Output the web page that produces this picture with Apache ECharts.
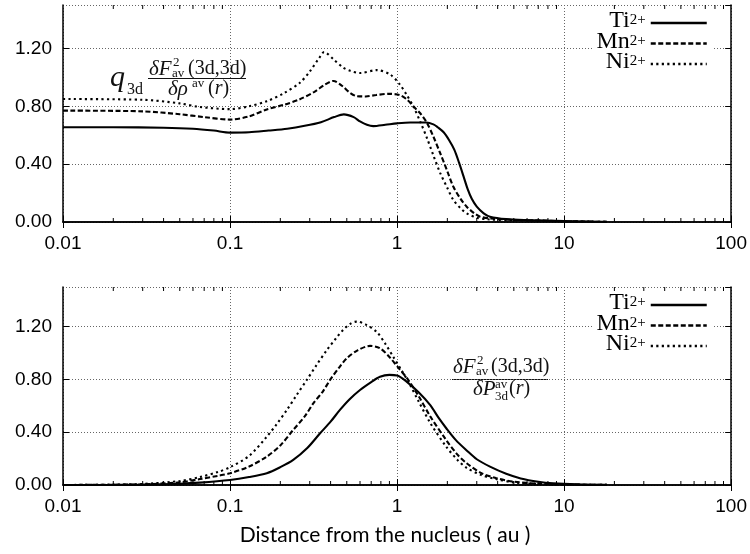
<!DOCTYPE html>
<html>
<head>
<meta charset="utf-8">
<script src="https://cdn.jsdelivr.net/npm/echarts@6/dist/echarts.min.js"></script>
<style>html,body{margin:0;padding:0;background:#fff}#c{width:750px;height:554px}</style>
</head>
<body>
<div id="c"></div>
<script>
// ---- data ----
const seriesNames = ['Ti2+', 'Mn2+', 'Ni2+'];
const xTickLabels = ['0.01', '0.1', '1', '10', '100'];
const minorTickValues = [0.02,0.03,0.04,0.05,0.06,0.07,0.08,0.09,
  0.2,0.3,0.4,0.5,0.6,0.7,0.8,0.9, 2,3,4,5,6,7,8,9, 20,30,40,50,60,70,80,90];

// upper panel: q3d dF/drho
const topTiX = [0.01,0.02,0.04,0.06,0.08,0.1,0.13,0.17,0.22,0.28,0.35,0.42,0.48,0.55,0.6,0.66,0.72,0.85,1.0,1.2,1.5,1.65,1.75,1.9,2.05,2.2,2.35,2.5,2.65,2.8,3.0,3.3,3.6,4.5,6,10,14,18];
const topTiY = [0.655,0.655,0.652,0.645,0.632,0.618,0.62,0.632,0.645,0.665,0.69,0.725,0.744,0.725,0.695,0.672,0.663,0.672,0.682,0.688,0.688,0.675,0.655,0.62,0.565,0.5,0.41,0.315,0.225,0.16,0.106,0.06,0.037,0.02,0.013,0.006,0.003,0.001];
const topMnX = [0.01,0.03,0.05,0.07,0.1,0.13,0.166,0.21,0.26,0.32,0.37,0.416,0.47,0.52,0.574,0.65,0.75,0.9,1.04,1.15,1.25,1.38,1.51,1.65,1.81,2.0,2.17,2.4,2.61,2.9,3.14,3.6,5,10,18];
const topMnY = [0.77,0.765,0.745,0.725,0.708,0.73,0.778,0.81,0.847,0.9,0.95,0.975,0.94,0.895,0.87,0.868,0.878,0.886,0.877,0.845,0.80,0.75,0.685,0.59,0.477,0.35,0.245,0.16,0.106,0.06,0.037,0.025,0.015,0.006,0.001];
const topNiX = [0.01,0.03,0.05,0.066,0.1,0.13,0.166,0.21,0.262,0.3,0.34,0.366,0.416,0.476,0.524,0.6,0.755,0.908,1.04,1.14,1.25,1.38,1.51,1.65,1.81,2.0,2.17,2.4,2.61,3.0,3.44,5,10,18];
const topNiY = [0.85,0.845,0.82,0.795,0.78,0.8,0.835,0.89,0.963,1.04,1.13,1.175,1.125,1.067,1.045,1.03,1.05,1.02,0.95,0.88,0.80,0.69,0.58,0.46,0.34,0.235,0.153,0.095,0.06,0.03,0.019,0.012,0.005,0.001];

// lower panel: dF/dP3d
const botTiX = [0.01,0.02,0.03,0.05,0.066,0.1,0.13,0.166,0.2,0.239,0.29,0.345,0.4,0.455,0.52,0.6,0.7,0.79,0.9,1.0,1.14,1.35,1.58,1.77,1.97,2.25,2.61,3.0,3.6,4.5,5.5,7,8.6,12,18];
const botTiY = [0,0.001,0.003,0.01,0.018,0.038,0.06,0.089,0.135,0.19,0.28,0.39,0.48,0.569,0.65,0.72,0.78,0.82,0.834,0.83,0.783,0.70,0.605,0.51,0.43,0.34,0.262,0.195,0.139,0.085,0.05,0.025,0.013,0.005,0.001];
const botMnX = [0.01,0.02,0.03,0.05,0.066,0.085,0.1,0.13,0.166,0.2,0.239,0.28,0.316,0.36,0.397,0.45,0.5,0.58,0.689,0.79,0.9,1.0,1.16,1.35,1.58,1.97,2.3,2.61,3.2,3.9,5,7,10,18];
const botMnY = [0,0.002,0.005,0.02,0.045,0.07,0.089,0.14,0.215,0.3,0.417,0.52,0.62,0.71,0.796,0.89,0.96,1.02,1.054,1.036,0.97,0.9,0.80,0.67,0.52,0.34,0.23,0.165,0.09,0.053,0.025,0.01,0.004,0.001];
const botNiX = [0.01,0.02,0.03,0.05,0.066,0.085,0.1,0.13,0.166,0.19,0.219,0.25,0.288,0.33,0.379,0.43,0.476,0.53,0.574,0.65,0.755,0.85,0.95,1.05,1.16,1.35,1.58,1.97,2.3,2.61,3.2,3.9,5,7,10,18];
const botNiY = [0,0.003,0.008,0.03,0.06,0.1,0.135,0.22,0.366,0.46,0.569,0.68,0.796,0.91,1.02,1.11,1.175,1.225,1.238,1.215,1.16,1.07,0.97,0.88,0.79,0.63,0.47,0.29,0.19,0.13,0.075,0.045,0.02,0.008,0.003,0.001];

const zip = (xs, ys) => xs.map((x, i) => [x, ys[i]]);

const serifFont = 'Liberation Serif';
const labelFont = 'Liberation Sans';
const dashes = { 'Ti2+': 'solid', 'Mn2+': [5, 2.5], 'Ni2+': [2.2, 3.3] };
const supNames = { 'Ti2+': ['Ti', '2+'], 'Mn2+': ['Mn', '2+'], 'Ni2+': ['Ni', '2+'] };

function lineSeries(name, data, gi) {
  return {
    name: name, type: 'line', xAxisIndex: gi * 2, yAxisIndex: gi * 2,
    data: data, symbol: 'none', smooth: 0.3, animation: false,
    lineStyle: { color: '#000', width: 2.1, type: dashes[name] },
    itemStyle: { color: '#000' }
  };
}

function minorTicks(gi) {
  return {
    type: 'custom', xAxisIndex: gi * 2, yAxisIndex: gi * 2, silent: true, clip: false,
    data: minorTickValues.map(v => [v, 0]),
    encode: { x: 0, y: 1 },
    renderItem: function (params, api) {
      const x = api.value(0);
      const b = api.coord([x, 0]);
      const t = api.coord([x, 1.5]);
      const st = { stroke: '#000', lineWidth: 1 };
      return { type: 'group', children: [
        { type: 'line', shape: { x1: b[0], y1: b[1], x2: b[0], y2: b[1] - 4 }, style: st },
        { type: 'line', shape: { x1: t[0], y1: t[1], x2: t[0], y2: t[1] + 4 }, style: st }
      ]};
    }
  };
}

function xAxes(gi) {
  const main = {
    type: 'log', logBase: 10, min: 0.01, max: 100, gridIndex: gi, position: 'bottom',
    axisLine: { lineStyle: { color: '#000', width: 1.5 } },
    axisTick: { inside: true, length: 6, lineStyle: { color: '#000' } },
    axisLabel: { color: '#000', fontFamily: labelFont, fontSize: 19, margin: 12,
      formatter: v => { const s = String(Number(v.toPrecision(3))); return xTickLabels.indexOf(s) >= 0 ? s : ''; } },
    splitLine: { show: true, lineStyle: { color: '#666', type: [1, 2], width: 1 } }
  };
  if (gi === 1) {
    main.name = 'Distance from the nucleus ( au )';
    main.nameLocation = 'middle';
    main.nameGap = 40;
    main.nameTextStyle = { color: '#000', fontFamily: 'Lato', fontSize: 21, padding: [0, 24, 0, 0] };
  }
  const mirror = {
    type: 'log', logBase: 10, min: 0.01, max: 100, gridIndex: gi, position: 'top',
    axisLine: { lineStyle: { color: '#000', width: 1.5 } },
    axisTick: { inside: true, length: 6, lineStyle: { color: '#000' } },
    axisLabel: { show: false }, splitLine: { show: false }
  };
  return [main, mirror];
}

function yAxes(gi) {
  const main = {
    type: 'value', min: 0, max: 1.5, interval: 0.4, gridIndex: gi, position: 'left',
    axisLine: { show: true, lineStyle: { color: '#000', width: 1.5 } },
    axisTick: { show: true, inside: true, length: 6, lineStyle: { color: '#000' } },
    axisLabel: { color: '#000', fontFamily: labelFont, fontSize: 19, margin: 11, showMaxLabel: false,
      formatter: v => v.toFixed(2) },
    splitLine: { show: true, lineStyle: { color: '#666', type: [1, 2], width: 1 } }
  };
  const mirror = {
    type: 'value', min: 0, max: 1.5, interval: 0.4, gridIndex: gi, position: 'right',
    axisLine: { show: true, lineStyle: { color: '#000', width: 1.5 } },
    axisTick: { show: true, inside: true, length: 6, lineStyle: { color: '#000' } },
    axisLabel: { show: false }, splitLine: { show: false }
  };
  return [main, mirror];
}

function legendAt(top) {
  return {
    top: top, right: 36, orient: 'vertical', align: 'right', itemGap: -3.5,
    itemWidth: 56, itemHeight: 14, padding: [0, 6, 0, 4], backgroundColor: '#fff',
    data: seriesNames, selectedMode: false,
    itemStyle: { opacity: 0 },
    lineStyle: { width: 2.5 },
    formatter: n => '{b|' + supNames[n][0] + '}{s|' + supNames[n][1] + '}',
    textStyle: { color: '#000', fontFamily: serifFont, fontSize: 24, lineHeight: 20,
      rich: {
        b: { fontFamily: serifFont, fontSize: 24, lineHeight: 20, verticalAlign: 'bottom', color: '#000' },
        s: { fontFamily: serifFont, fontSize: 15, lineHeight: 5, verticalAlign: 'top', color: '#000' }
      } }
  };
}

function txt(text, x, y, size, italic) {
  return { type: 'text', x: x, y: y, silent: true,
    style: { text: text, fill: '#111', font: (italic ? 'italic ' : '') + size + 'px "' + serifFont + '"',
      verticalAlign: 'middle', align: 'left',
      rich: { i: { fontStyle: 'italic', fontFamily: serifFont, fontSize: size, fill: '#111' } } } };
}
function bar(x1, x2, y) {
  return { type: 'line', silent: true, shape: { x1: x1, y1: y, x2: x2, y2: y }, style: { stroke: '#111', lineWidth: 1 } };
}

const graphics = [
  // upper annotation: q3d dF^2_av(3d,3d) / d rho^av(r)
  txt('q', 110, 78, 30, true),
  txt('3d', 127, 90, 16, false),
  txt('δF', 149, 69, 21, true),
  txt('2', 173, 63, 13, false),
  txt('av', 172, 74, 13, false),
  txt('(3d,3d)', 188, 69, 20, false),
  bar(148, 246, 78.5),
  txt('δρ', 168, 89, 21, true),
  txt('av', 192, 84, 13, false),
  txt('({i|r})', 208, 89, 20, false),
  // lower annotation: dF^2_av(3d,3d) / dP^av_3d(r)
  txt('δF', 453, 367, 21, true),
  txt('2', 477, 361, 13, false),
  txt('av', 476, 372, 13, false),
  txt('(3d,3d)', 491, 367, 20, false),
  bar(452, 548, 379.5),
  txt('δP', 473, 389, 21, true),
  txt('av', 495, 385, 13, false),
  txt('3d', 495, 397, 13, false),
  txt('({i|r})', 509, 389, 20, false)
];

const chart = echarts.init(document.getElementById('c'), null, { renderer: 'canvas' });
chart.setOption({
  animation: false,
  backgroundColor: '#fff',
  grid: [
    { left: 63, right: 18, top: 5, height: 217 },
    { left: 63, right: 18, top: 287, height: 198 }
  ],
  xAxis: [...xAxes(0), ...xAxes(1)],
  yAxis: [...yAxes(0), ...yAxes(1)],
  legend: [legendAt(9), legendAt(291)],
  series: [
    lineSeries('Ti2+', zip(topTiX, topTiY), 0),
    lineSeries('Mn2+', zip(topMnX, topMnY), 0),
    lineSeries('Ni2+', zip(topNiX, topNiY), 0),
    lineSeries('Ti2+', zip(botTiX, botTiY), 1),
    lineSeries('Mn2+', zip(botMnX, botMnY), 1),
    lineSeries('Ni2+', zip(botNiX, botNiY), 1),
    minorTicks(0), minorTicks(1)
  ],
  graphic: graphics
});
</script>
</body>
</html>
